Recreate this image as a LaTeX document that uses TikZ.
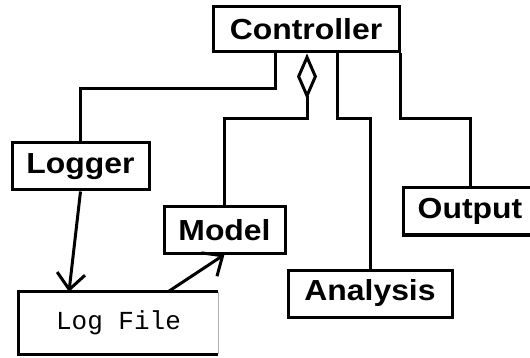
\documentclass[tikz,border=0pt]{standalone}
\usepackage{fontspec}
\usepackage{tikz}
\usetikzlibrary{arrows.meta}
\newfontfamily\boxfont[FakeStretch=1.1]{Liberation Sans}
\newfontfamily\logfont{Liberation Mono}

\tikzset{
  cls/.style={draw,line width=3pt,inner sep=0pt,font=\boxfont\bfseries\fontsize{29}{32}\selectfont},
  link/.style={line width=3pt},
  dep/.style={line width=3pt,-{Straight Barb[length=16pt,width=28pt]}}
}

\begin{document}
\begin{tikzpicture}[x=1pt,y=-1pt]
\useasboundingbox (0,0) rectangle (530,358);
\node[cls,minimum width=186pt,minimum height=45pt] (ctrl) at (306,29.5) {Controller};
\node[cls,minimum width=137pt,minimum height=47pt] (logger) at (80.5,166.5) {Logger};
\node[cls,minimum width=121pt,minimum height=46pt] (model) at (224.5,230) {Model};
\node[cls,minimum width=164pt,minimum height=47pt] (ana) at (370,293.5) {Analysis};
\node[cls,minimum width=134pt,minimum height=47pt,xshift=-1pt] (out) at (471,211.5) {Output};
\node[inner sep=0pt,minimum width=199pt,minimum height=62pt,font=\logfont\fontsize{26}{28}\selectfont] (log) at (118.5,323) {Log File};
% log file box, right side thin
\draw[line width=3pt] (log.north east) -- (log.north west) -- (log.south west) -- (log.south east);
\draw[gray!60,thin] (log.north east) -- (log.south east);

\draw[link] ([xshift=-31pt]ctrl.south) -- ++(0,35) -| (logger.north);
\draw[link,{Diamond[open,length=46pt,width=20pt]}-] ([xshift=1pt]ctrl.south) -- ++(0,65) -| (model.north);
\draw[link] ([xshift=31pt]ctrl.south) -- ++(0,65) -| (ana.north);
\draw[link] (ctrl.south east) -- ++(0,65) -| (out.north);

\draw[dep] (logger.south) -- ([xshift=-49.5pt]log.north);
\draw[dep] ([xshift=49.5pt]log.north) -- (model.south);
\end{tikzpicture}
\end{document}
